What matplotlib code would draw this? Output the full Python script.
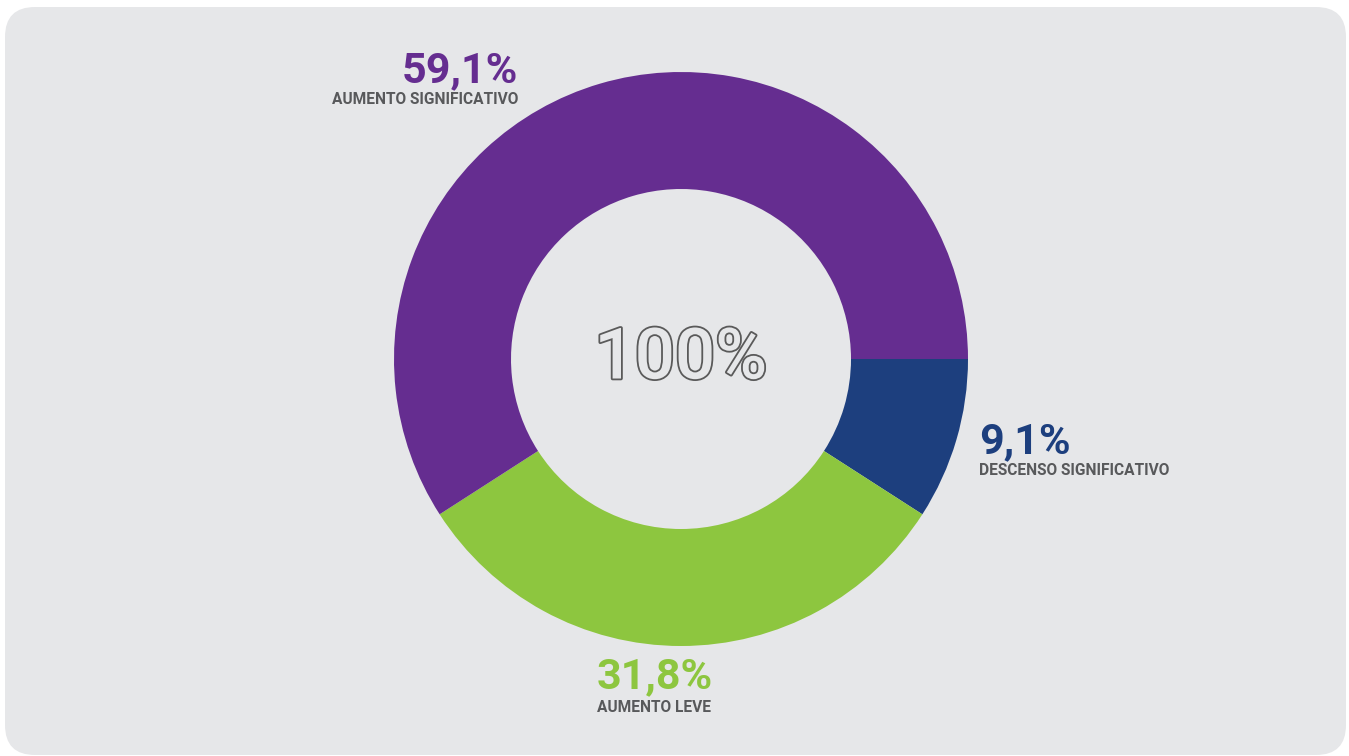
import matplotlib.pyplot as plt
from matplotlib.patches import FancyBboxPatch
import matplotlib.patheffects as pe

plt.rcParams['font.family'] = ['Roboto', 'DejaVu Sans']

# data
labels = ["DESCENSO SIGNIFICATIVO", "AUMENTO LEVE", "AUMENTO SIGNIFICATIVO"]
values = [9.1, 31.8, 59.1]
pct_text = ["9,1%", "31,8%", "59,1%"]
colors = ["#1d3f7e", "#8dc63f", "#652d90"]
total_text = "100%"

W, H = 1349, 756
bg = "#e6e7e9"
gray = "#58595b"

fig = plt.figure(figsize=(W / 100, H / 100), dpi=100)
fig.patch.set_facecolor("white")
ax = fig.add_axes([0, 0, 1, 1])
ax.set_xlim(0, W)
ax.set_ylim(0, H)
ax.set_aspect("equal")
ax.axis("off")

def Y(ypix):
    # picture rows to data y
    return H - ypix

# background card
card = FancyBboxPatch((5, Y(755)), 1341, 748, boxstyle="round,pad=0,rounding_size=30",
                      facecolor=bg, edgecolor="none", zorder=0)
ax.add_patch(card)

# donut
ax.pie(values, colors=colors, startangle=0, counterclock=False,
       center=(681, Y(359)), radius=287, frame=True,
       wedgeprops=dict(width=117, edgecolor="none"))
ax.set_xlim(0, W)
ax.set_ylim(0, H)
ax.axis("off")

# center text, outlined
ax.text(681, Y(359), total_text, fontsize=51, fontweight="medium", color=bg,
        ha="center", va="center",
        path_effects=[pe.Stroke(linewidth=2.6, foreground="#5a5a5a"), pe.Normal()], zorder=5)

# labels: (x, baseline of number, baseline of label, align)
spots = [(979, 453, 475, "left"), (597, 688, 712, "left"), (518, 82, 104, "right")]
for (x, yn, yl, ha), p, lab, c in zip(spots, pct_text, labels, colors):
    ax.text(x, Y(yn), p, fontsize=31, fontweight="bold", color=c, ha=ha, va="baseline")
    ax.text(x, Y(yl), lab, fontsize=11.2, fontweight="bold", color=gray, ha=ha, va="baseline")

fig.savefig("out.png", dpi=100, facecolor=fig.get_facecolor())
